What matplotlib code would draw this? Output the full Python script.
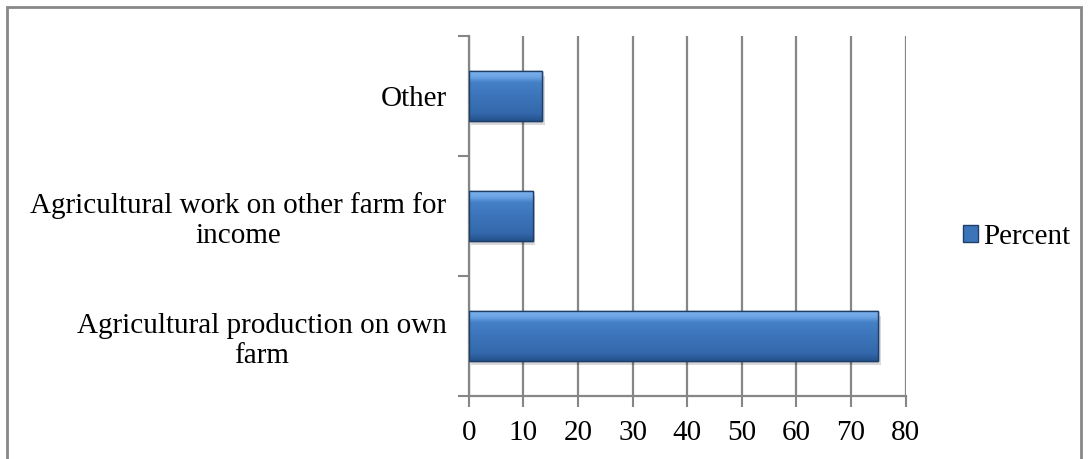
import matplotlib.pyplot as plt
import numpy as np
from matplotlib.patches import Rectangle, Patch
from matplotlib.colors import LinearSegmentedColormap

plt.rcParams['font.family'] = ['Liberation Serif', 'DejaVu Serif']

categories = ["Agricultural production on own\nfarm",
              "Agricultural work on other farm for\nincome",
              "Other"]
percent = [74.9, 11.7, 13.5]
xticks = [0, 10, 20, 30, 40, 50, 60, 70, 80]
series_name = "Percent"

grid_col = "#868686"
bar_cmap = LinearSegmentedColormap.from_list(
    "bevel", [(0.0, "#24528c"), (0.15, "#3368ab"), (0.5, "#3c74ba"),
              (0.78, "#4580c6"), (0.88, "#6aa2e2"), (1.0, "#7cb2ee")])

fig = plt.figure(figsize=(10.88, 4.59), dpi=100)
ax = fig.add_axes([0.4308, 0.1373, 0.4016, 0.7843])

y = np.arange(len(categories))
bars = ax.barh(y, percent, height=0.41, color="#3c74ba", edgecolor="#1f3f6a",
               linewidth=1.0, zorder=3)

# gradient fill + soft shadow for each bar
grad = np.linspace(0, 1, 64).reshape(-1, 1)
for b in bars:
    x0, y0 = b.get_x(), b.get_y()
    w, h = b.get_width(), b.get_height()
    ax.add_patch(Rectangle((x0 + 0.5, y0 - 0.04), w, h, color="#000000",
                           alpha=0.15, lw=0, zorder=2))
    im = ax.imshow(grad, cmap=bar_cmap, aspect="auto", origin="lower",
                   extent=(x0, x0 + w, y0, y0 + h), zorder=3.5)
    im.set_clip_path(b)
    ax.add_patch(Rectangle((x0, y0), w, h, fill=False, edgecolor="#1f3f6a",
                           lw=1.0, zorder=4))

ax.set_xlim(0, 80)
ax.set_ylim(-0.5, len(categories) - 0.5)
ax.set_xticks(xticks)
ax.set_xticklabels([str(t) for t in xticks], fontsize=21)
ax.set_yticks(y)
ax.set_yticklabels(categories, fontsize=21, multialignment="center")
ax.set_yticks(np.arange(-0.5, len(categories)), minor=True)
ax.tick_params(axis="y", which="major", length=0, pad=16)
ax.tick_params(axis="y", which="minor", length=8, width=1.5, color=grid_col)
ax.tick_params(axis="x", length=8, width=1.5, color=grid_col, pad=9)

ax.grid(axis="x", color=grid_col, linewidth=1.6, zorder=0)
ax.set_axisbelow(True)
for side in ["top", "right"]:
    ax.spines[side].set_visible(False)
for side in ["left", "bottom"]:
    ax.spines[side].set_color(grid_col)
    ax.spines[side].set_linewidth(1.6)

handle = Patch(facecolor="#3c74ba", edgecolor="#1f3f6a", linewidth=1.0)
fig.legend([handle], [series_name], loc="center left",
           bbox_to_anchor=(0.885, 0.484), frameon=False, fontsize=21,
           borderpad=0, borderaxespad=0,
           handlelength=0.52, handleheight=0.52, handletextpad=0.17)

# chart frame
fig.patches.append(Rectangle((7 / 1088, -0.05), 1074 / 1088, 1.05 - 7 / 459,
                             transform=fig.transFigure, fill=False,
                             edgecolor="#888888", linewidth=2.0))

fig.savefig("out.png", dpi=100)
